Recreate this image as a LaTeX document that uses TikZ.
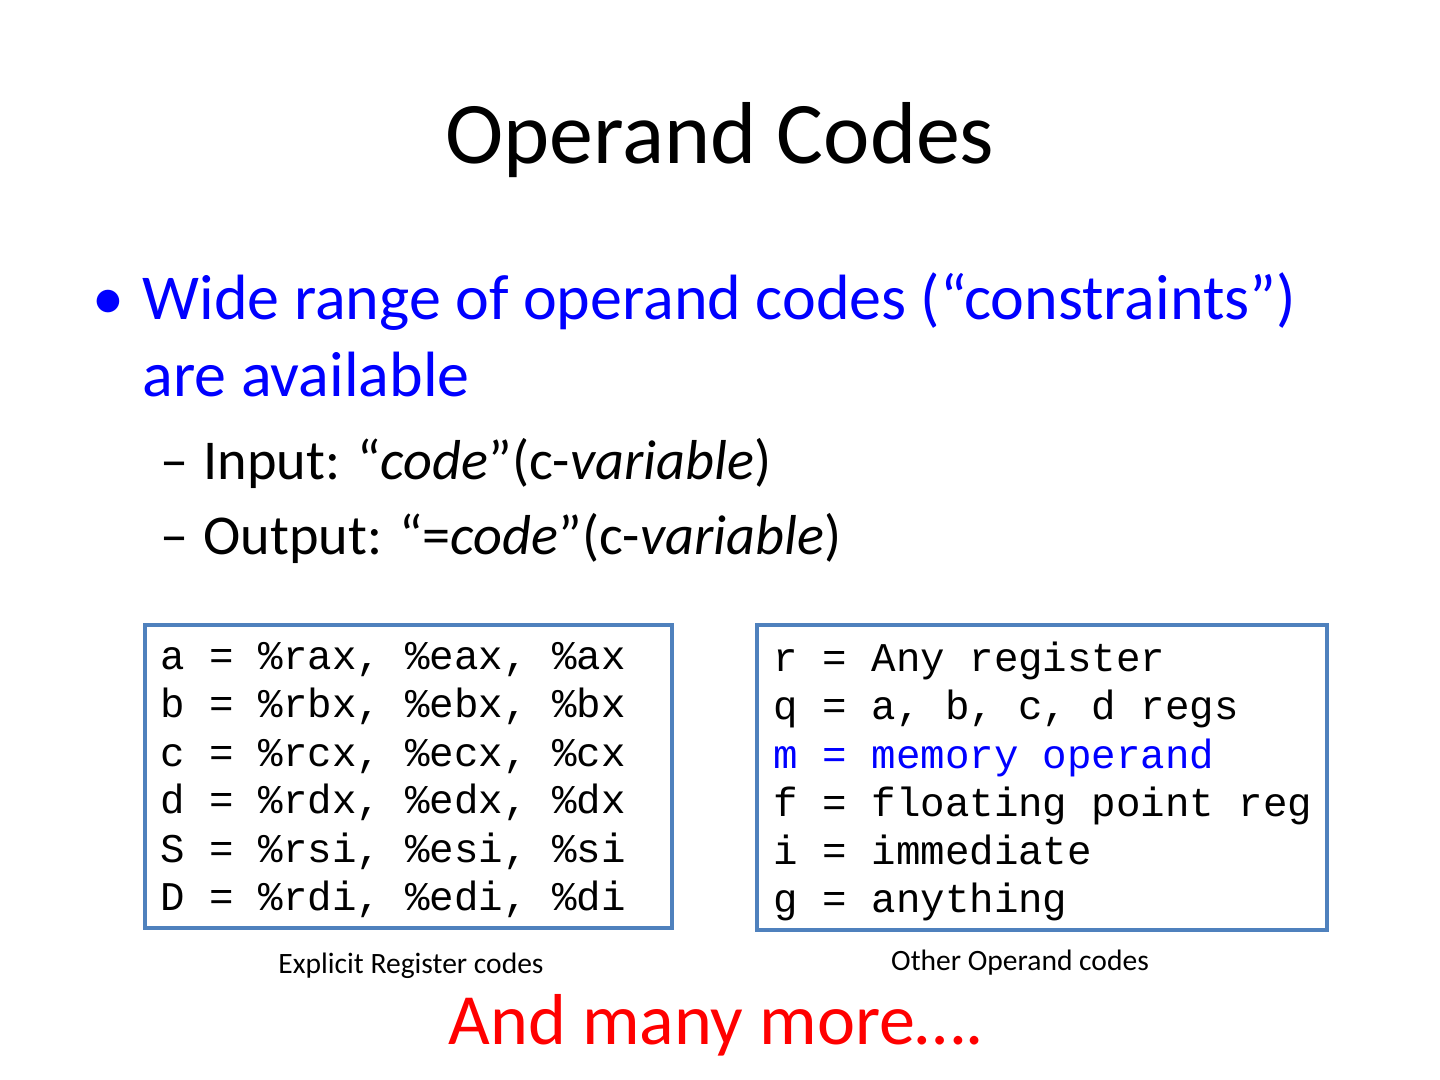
\documentclass[tikz,border=0pt]{standalone}
\usepackage{fontspec}
\setmainfont{Carlito}
\setmonofont{Liberation Mono}
\usetikzlibrary{positioning}
\definecolor{slideblue}{HTML}{0000FF}
\definecolor{boxedge}{HTML}{4F81BD}
\definecolor{morered}{HTML}{FF0000}
\tikzset{
  body/.style={anchor=base west, inner sep=0pt, font=\fontsize{18.2}{22}\selectfont},
  sub/.style={anchor=base west, inner sep=0pt, font=\fontsize{16}{19}\selectfont},
  code/.style={anchor=base west, inner sep=0pt, font=\ttfamily\fontsize{11.6}{13.7}\selectfont},
  codebox/.style={draw=boxedge, line width=0.9pt},
  boxcaption/.style={inner sep=0pt, font=\fontsize{8.4}{10}\selectfont},
}
\begin{document}
\begin{tikzpicture}[x=0.01cm,y=-0.01cm]
\useasboundingbox (0,0) rectangle (1440,1080);

% --- Title ---
\node[inner sep=0pt, font=\fontsize{25}{30}\selectfont] (title) at (720,140) {Operand Codes};

% --- Bullets ---
\node[body, text=slideblue] (bul) at (92,320) {\textbullet};
\node[body, text=slideblue] (main1) at (142,320) {Wide range of operand codes (“constraints”)};
\node[body, text=slideblue] (main2) at (142,397) {are available};
\node[sub] (dash1) at (160,480) {–};
\node[sub] (input) at (203,480) {Input: “\textit{code}”(c-\textit{variable})};
\node[sub] (dash2) at (160,555) {–};
\node[sub] (output) at (203,555) {Output: “=\textit{code}”(c-\textit{variable})};

% --- Register codes ---
\draw[codebox] (145,625) rectangle (672,928);
\node[code] (ra) at (160,670) {a = \%rax, \%eax, \%ax};
\node[code] (rb) at (160,718) {b = \%rbx, \%ebx, \%bx};
\node[code] (rc) at (160,766) {c = \%rcx, \%ecx, \%cx};
\node[code] (rd) at (160,814) {d = \%rdx, \%edx, \%dx};
\node[code] (rS) at (160,862) {S = \%rsi, \%esi, \%si};
\node[code] (rD) at (160,910) {D = \%rdi, \%edi, \%di};
\node[boxcaption] (regcap) at (411,966) {Explicit Register codes};

% --- Other codes ---
\draw[codebox] (757,625) rectangle (1327,930);
\node[code] (or) at (773,672) {r = Any register};
\node[code] (oq) at (773,720) {q = a, b, c, d regs};
\node[code, text=slideblue] (om) at (773,768) {m = memory operand};
\node[code] (of) at (773,816) {f = floating point reg};
\node[code] (oi) at (773,864) {i = immediate};
\node[code] (og) at (773,912) {g = anything};
\node[boxcaption] (othcap) at (1020,963) {Other Operand codes};

\node[inner sep=0pt, text=morered, font=\fontsize{20.5}{24}\selectfont] (more) at (716,1025) {And many more….};
\end{tikzpicture}
\end{document}
